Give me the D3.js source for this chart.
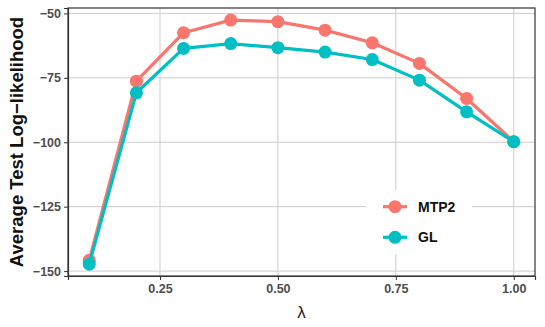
<!DOCTYPE html>
<html>
<head>
<meta charset="utf-8">
<script src="https://cdn.jsdelivr.net/npm/d3@7"></script>
<style>
body{margin:0;background:#fff;}
svg{display:block;font-family:"Liberation Sans",Arial,sans-serif;}
</style>
</head>
<body>
<svg id="chart" width="545" height="327"></svg>
<script>
const lambdas = [0.1,0.2,0.3,0.4,0.5,0.6,0.7,0.8,0.9,1.0];
const mtp2 = [-145.8,-76.3,-57.5,-52.6,-53.2,-56.5,-61.4,-69.4,-83.0,-99.8];
const gl = [-147.3,-80.8,-63.6,-61.7,-63.3,-65.0,-67.9,-75.9,-88.2,-99.8];
const seriesNames = ["MTP2","GL"];
const seriesColors = ["#F8766D","#00BFC4"];
const xTicks = [0.25,0.50,0.75,1.00];
const yTicks = [-50,-75,-100,-125,-150];

const svg = d3.select("#chart");
const L=68, R=535, T=8, B=276;
const x = d3.scaleLinear().domain([0.055,1.045]).range([L,R]);
const y = d3.scaleLinear().domain([-151.9,-47.9]).range([B,T]);

// grid
svg.append("g").selectAll("line").data(xTicks).join("line")
  .attr("x1",d=>x(d)).attr("x2",d=>x(d)).attr("y1",T).attr("y2",B)
  .attr("stroke","#cccccc").attr("stroke-width",1);
svg.append("g").selectAll("line").data(yTicks).join("line")
  .attr("x1",L).attr("x2",R).attr("y1",d=>y(d)).attr("y2",d=>y(d))
  .attr("stroke","#cccccc").attr("stroke-width",1);

// legend background (drawn before lines)
svg.append("rect").attr("x",366).attr("y",190).attr("width",106).attr("height",64).attr("fill","#fff");

// series
const data = [mtp2, gl];
const line = d3.line().x((d,i)=>x(lambdas[i])).y(d=>y(d));
data.forEach((s,k)=>{
  svg.append("path").datum(s).attr("d",line).attr("fill","none")
    .attr("stroke",seriesColors[k]).attr("stroke-width",3.2).attr("stroke-linejoin","round");
  svg.append("g").selectAll("circle").data(s).join("circle")
    .attr("cx",(d,i)=>x(lambdas[i])).attr("cy",d=>y(d)).attr("r",6.5)
    .attr("fill",seriesColors[k]);
});

// panel border
svg.append("rect").attr("x",L).attr("y",T).attr("width",R-L).attr("height",B-T)
  .attr("fill","none").attr("stroke","#333").attr("stroke-width",1.2);

// axes
const xAxis = svg.append("g").attr("transform",`translate(0,${B})`)
  .call(d3.axisBottom(x).tickValues(xTicks).tickFormat(d3.format(".2f")).tickSize(4).tickPadding(4));
const yAxis = svg.append("g").attr("transform",`translate(${L},0)`)
  .call(d3.axisLeft(y).tickValues(yTicks).tickFormat(d=>d3.format("d")(d).replace("-","\u2212")).tickSize(4).tickPadding(3));
[xAxis,yAxis].forEach(a=>{
  a.select(".domain").attr("stroke","#333").attr("stroke-width",1.2);
  a.selectAll(".tick line").attr("stroke","#333");
  a.selectAll(".tick text").attr("fill","#4D4D4D").attr("font-size",12.5).attr("font-weight","bold")
    .attr("font-family","Liberation Sans, Arial, sans-serif");
});

// axis titles
svg.append("text").attr("x",(L+R)/2).attr("y",318).attr("text-anchor","middle")
  .attr("font-size",17).attr("fill","#222").text("λ");
svg.append("text").attr("transform",`translate(23,${(T+B)/2}) rotate(-90)`)
  .attr("text-anchor","middle").attr("font-size",18.5).attr("font-weight","bold").attr("fill","#111")
  .text("Average Test Log\u2212likelihood");

// legend
const legY = [206.7,237.3];
seriesNames.forEach((n,k)=>{
  svg.append("line").attr("x1",383).attr("x2",407).attr("y1",legY[k]).attr("y2",legY[k])
    .attr("stroke",seriesColors[k]).attr("stroke-width",3.2);
  svg.append("circle").attr("cx",395).attr("cy",legY[k]).attr("r",6.5).attr("fill",seriesColors[k]);
  svg.append("text").attr("x",418).attr("y",legY[k]+5).attr("font-size",14).attr("font-weight","bold")
    .attr("fill","#111").text(n);
});
</script>
</body>
</html>
